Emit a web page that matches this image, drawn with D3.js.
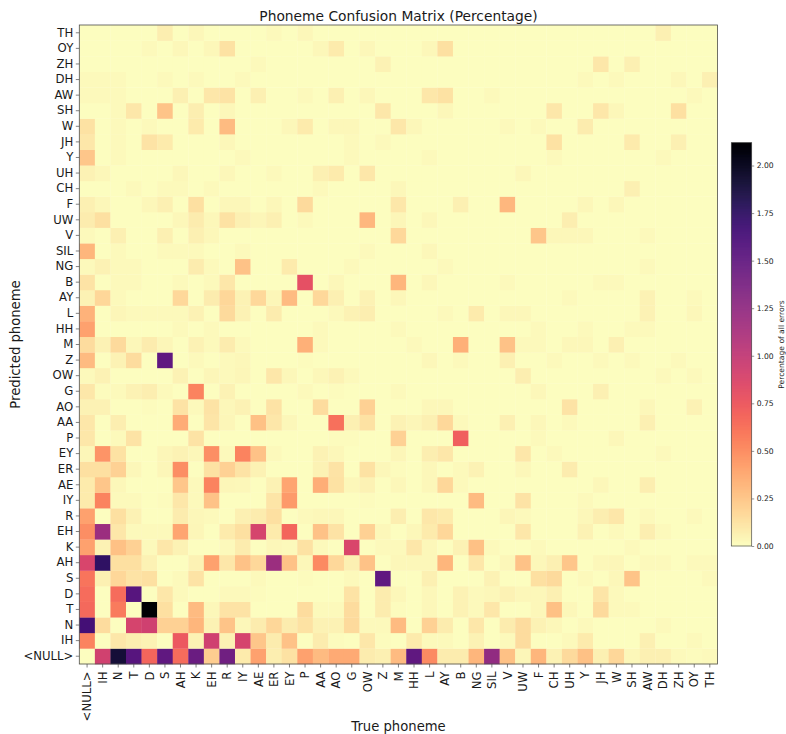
<!DOCTYPE html>
<html><head><meta charset="utf-8">
<script src="https://cdn.jsdelivr.net/npm/d3@7/dist/d3.min.js"></script>
<style>html,body{margin:0;padding:0;background:#fff}svg{display:block}text{font-family:"DejaVu Sans",sans-serif;fill:#1a1a1a}</style>
</head><body><div id="c"></div>
<script>
const truePhonemes = ["<NULL>","IH","N","T","D","S","AH","K","EH","R","IY","AE","ER","EY","P","AA","AO","G","OW","Z","M","HH","L","AY","B","NG","SIL","V","UW","F","CH","UH","Y","JH","W","SH","AW","DH","ZH","OY","TH"];
const predictedPhonemes = truePhonemes.slice();
const colorbarTicks = [0,.25,.5,.75,1,1.25,1.5,1.75,2];
const maxValue = 2.12;
// each list: [true-phoneme index, percentage]; unlisted cells are 0
const rowTH=[[5,.07],[7,.03],[12,.02],[14,.03],[37,.06]];
const rowOY=[[4,.02],[6,.03],[8,.03],[9,.13],[15,.03],[16,.09],[18,.03],[22,.03],[23,.14]];
const rowZH=[[11,.02],[19,.05],[33,.1],[35,.06]];
const rowDH=[[0,.02],[1,.02],[2,.02],[5,.02],[7,.02],[10,.02],[32,.02],[34,.02],[38,.03],[40,.06]];
const rowAW=[[0,.02],[1,.02],[2,.02],[6,.06],[8,.1],[9,.12],[11,.06],[14,.02],[16,.06],[18,.03],[22,.1],[23,.13],[26,.02],[39,.02]];
const rowSH=[[2,.02],[3,.1],[5,.26],[7,.07],[9,.03],[19,.1],[23,.03],[30,.1],[33,.1],[34,.03],[38,.14]];
const rowW=[[0,.13],[2,.02],[4,.02],[7,.09],[9,.3],[13,.03],[14,.09],[16,.03],[17,.03],[20,.1],[21,.03],[27,.02],[29,.02],[32,.08]];
const rowJH=[[0,.1],[2,.02],[4,.12],[5,.09],[9,.03],[17,.02],[19,.02],[30,.13],[35,.09],[38,.06]];
const rowY=[[0,.25],[2,.02],[10,.02],[17,.02],[22,.02],[30,.02],[37,.02]];
const rowUH=[[0,.05],[1,.03],[6,.03],[9,.03],[12,.02],[15,.06],[16,.09],[18,.1],[28,.03]];
const rowCH=[[3,.02],[5,.02],[6,.02],[8,.02],[15,.02],[20,.03],[35,.06]];
const rowF=[[0,.06],[1,.03],[4,.03],[5,.06],[7,.14],[9,.03],[10,.03],[12,.03],[14,.16],[20,.1],[24,.06],[27,.32],[32,.03],[34,.03]];
const rowUW=[[0,.08],[1,.14],[6,.03],[7,.08],[8,.03],[9,.13],[10,.06],[11,.04],[12,.06],[14,.02],[18,.32],[20,.04],[22,.03],[31,.07]];
const rowV=[[0,.02],[2,.06],[5,.06],[7,.06],[8,.03],[20,.17],[29,.25],[30,.03],[31,.03],[32,.03],[36,.02]];
const rowSIL=[[0,.33],[2,.02],[5,.02],[6,.02],[7,.02],[10,.02],[18,.02],[22,.03]];
const rowNG=[[0,.02],[1,.05],[2,.02],[3,.02],[7,.08],[8,.02],[10,.27],[13,.09],[17,.02],[23,.02],[36,.02]];
const rowB=[[0,.12],[2,.02],[3,.02],[6,.02],[8,.02],[9,.1],[14,.8],[16,.03],[20,.33],[22,.03],[27,.02],[33,.02],[34,.02]];
const rowAY=[[0,.05],[1,.18],[2,.02],[6,.17],[8,.08],[9,.18],[10,.05],[11,.17],[12,.04],[13,.3],[15,.17],[16,.06],[18,.05],[20,.03],[31,.02],[36,.05],[39,.02]];
const rowL=[[0,.34],[2,.04],[3,.02],[4,.02],[5,.02],[6,.02],[7,.05],[9,.16],[10,.05],[12,.08],[16,.02],[17,.05],[18,.07],[23,.02],[25,.09],[27,.03],[28,.03],[36,.05],[39,.03]];
const rowHH=[[0,.42],[6,.02],[8,.02],[15,.02],[20,.02],[29,.02],[32,.02],[35,.02],[36,.02]];
const rowM=[[0,.15],[1,.05],[2,.16],[3,.03],[4,.08],[5,.04],[7,.05],[8,.02],[9,.08],[10,.02],[14,.35],[15,.02],[21,.02],[24,.35],[27,.27],[28,.02],[29,.02],[31,.03],[32,.03],[34,.06]];
const rowZ=[[0,.3],[2,.05],[3,.15],[5,1.5],[7,.02],[9,.02],[10,.03],[14,.01],[22,.03],[24,.02],[27,.06],[30,.02],[33,.02],[35,.02],[38,.02]];
const rowOW=[[0,.02],[1,.05],[6,.05],[8,.04],[9,.02],[10,.04],[12,.1],[13,.03],[15,.03],[16,.05],[17,.02],[28,.07],[37,.02],[39,.02]];
const rowG=[[0,.1],[1,.01],[2,.02],[3,.05],[4,.07],[5,.02],[7,.55],[9,.05],[14,.02],[16,.01],[20,.02],[29,.03],[33,.06]];
const rowAO=[[0,.05],[1,.05],[4,.01],[6,.12],[7,.02],[8,.12],[9,.03],[10,.05],[12,.12],[15,.15],[18,.2],[22,.03],[23,.03],[31,.12],[36,.03],[39,.05]];
const rowAA=[[0,.1],[2,.07],[6,.37],[8,.11],[9,.04],[11,.28],[12,.1],[13,.03],[16,.63],[17,.06],[18,.13],[20,.05],[21,.04],[22,.06],[23,.17],[24,.02],[27,.06],[29,.03],[31,.02],[36,.06]];
const rowP=[[0,.1],[2,.02],[3,.12],[7,.12],[16,.01],[17,.01],[20,.2],[24,.72],[29,.02],[34,.03]];
const rowEY=[[0,.04],[1,.48],[2,.13],[5,.04],[6,.05],[7,.03],[8,.5],[9,.02],[10,.55],[11,.27],[12,.02],[15,.05],[16,.03],[20,.04],[22,.07],[23,.1],[28,.1],[30,.02],[37,.02]];
const rowER=[[0,.14],[1,.14],[2,.2],[3,.03],[5,.04],[6,.5],[8,.13],[9,.2],[10,.12],[11,.05],[15,.05],[16,.12],[18,.13],[19,.03],[20,.01],[22,.03],[24,.02],[25,.05],[28,.03],[31,.08]];
const rowAE=[[0,.09],[1,.25],[2,.03],[6,.25],[7,.02],[8,.55],[9,.04],[10,.03],[12,.05],[13,.4],[15,.36],[16,.13],[17,.03],[18,.05],[20,.03],[22,.03],[23,.18],[24,.02],[33,.03],[36,.07]];
const rowIY=[[0,.09],[1,.55],[2,.02],[3,.02],[5,.01],[6,.1],[7,.02],[8,.27],[12,.11],[13,.45],[18,.01],[25,.3],[28,.12],[32,.02]];
const rowR=[[0,.42],[2,.14],[3,.05],[6,.08],[7,.03],[8,.02],[10,.06],[11,.08],[12,.14],[14,.02],[15,.03],[16,.03],[20,.07],[22,.1],[23,.09],[27,.04],[28,.02],[32,.03],[33,.07],[34,.1],[36,.02],[39,.02]];
const rowEH=[[0,.5],[1,1.2],[2,.1],[3,.02],[4,.02],[5,.02],[6,.4],[7,.04],[9,.09],[10,.14],[11,.9],[12,.09],[13,.68],[15,.27],[16,.12],[18,.2],[19,.03],[21,.03],[22,.09],[23,.18],[28,.1],[32,.05],[34,.02],[36,.07],[37,.02]];
const rowK=[[0,.42],[1,.05],[2,.28],[3,.2],[4,.02],[5,.1],[6,.05],[9,.02],[10,.08],[12,.03],[13,.02],[14,.13],[15,.02],[17,.87],[19,.02],[20,.02],[21,.1],[22,.03],[24,.05],[25,.28],[26,.02],[29,.02],[35,.02]];
const rowAH=[[0,.88],[1,1.75],[2,.14],[3,.14],[4,.05],[7,.05],[8,.42],[9,.1],[10,.27],[11,.17],[12,1.2],[13,.27],[14,.03],[15,.52],[16,.17],[17,.06],[18,.27],[20,.03],[21,.03],[22,.03],[23,.33],[25,.1],[27,.03],[28,.27],[29,.03],[30,.06],[31,.25],[33,.03],[34,.04],[36,.02],[37,.02],[39,.02],[40,.02]];
const rowS=[[0,.62],[1,.06],[2,.18],[3,.12],[4,.14],[6,.02],[7,.12],[11,.02],[14,.01],[17,.02],[19,1.5],[22,.06],[26,.05],[29,.14],[30,.16],[32,.02],[34,.03],[35,.26],[40,.02]];
const rowD=[[0,.65],[2,.65],[3,1.55],[5,.1],[6,.02],[9,.02],[10,.02],[11,.01],[17,.12],[19,.08],[20,.03],[22,.03],[24,.05],[25,.02],[26,.03],[27,.05],[28,.03],[29,.03],[30,.06],[33,.11],[34,.02]];
const rowT=[[0,.67],[2,.58],[4,2.12],[5,.14],[7,.3],[8,.03],[9,.12],[10,.12],[14,.15],[15,.02],[16,.02],[17,.15],[19,.08],[20,.01],[22,.03],[24,.05],[25,.02],[26,.1],[29,.03],[30,.28],[31,.03],[33,.16],[34,.02],[35,.02]];
const rowN=[[0,1.65],[1,.15],[3,.9],[4,.93],[5,.2],[6,.2],[7,.33],[8,.05],[9,.26],[10,.03],[11,.08],[12,.18],[13,.08],[14,.13],[15,.05],[16,.05],[17,.16],[18,.02],[19,.02],[20,.3],[22,.2],[23,.08],[25,.1],[27,.08],[28,.15],[29,.05],[30,.03],[32,.02],[37,.02]];
const rowIH=[[0,.55],[2,.1],[3,.07],[4,.05],[6,.75],[7,.05],[8,.93],[9,.05],[10,.9],[11,.25],[12,.08],[13,.27],[15,.08],[16,.01],[18,.1],[19,.01],[21,.09],[22,.02],[23,.02],[25,.05],[27,.02],[28,.15],[31,.02],[32,.09],[36,.06],[39,.02]];
const rowNULL=[[1,.92],[2,1.9],[3,1.55],[4,.68],[5,1.5],[6,.65],[7,1.45],[8,.22],[9,1.42],[10,.09],[11,.42],[12,.07],[13,.13],[14,.42],[15,.3],[16,.38],[17,.38],[18,.08],[19,.06],[20,.3],[21,1.5],[22,.52],[23,.08],[24,.08],[25,.33],[26,1.25],[27,.28],[28,.04],[29,.33],[30,.05],[31,.16],[32,.28],[33,.06],[34,.18],[35,.03],[36,.06],[37,.06],[38,.02],[39,.01],[40,.02]];
const rows=[rowNULL,rowIH,rowN,rowT,rowD,rowS,rowAH,rowK,rowEH,rowR,rowIY,rowAE,rowER,rowEY,rowP,rowAA,rowAO,rowG,rowOW,rowZ,rowM,rowHH,rowL,rowAY,rowB,rowNG,rowSIL,rowV,rowUW,rowF,rowCH,rowUH,rowY,rowJH,rowW,rowSH,rowAW,rowDH,rowZH,rowOY,rowTH];

const W=786,H=734,L=79.3,R=717.6,T=25,B=664;
const svg=d3.select("#c").append("svg").attr("width",W).attr("height",H);
const x=d3.scaleBand().domain(truePhonemes).range([L,R]);
const y=d3.scaleBand().domain(predictedPhonemes).range([B,T]);
const color=v=>d3.interpolateMagma(1-Math.min(v,maxValue)/maxValue);

const cells=predictedPhonemes.flatMap((p,r)=>{
  const m=new Map(rows[r]);
  return truePhonemes.map((t,c)=>({p,t,v:m.get(c)||0}));
});
svg.append("g").selectAll("rect").data(cells).join("rect")
  .attr("x",d=>x(d.t)).attr("y",d=>y(d.p))
  .attr("width",x.bandwidth()+.3).attr("height",y.bandwidth()+.3)
  .attr("fill",d=>color(d.v));

const spine="#4d4d4d";
svg.append("rect").attr("x",L).attr("y",T).attr("width",R-L).attr("height",B-T)
  .attr("fill","none").attr("stroke",spine).attr("stroke-width",.8);

const gx=svg.append("g").attr("transform",`translate(0,${B})`)
  .call(d3.axisBottom(x).tickSize(3.5).tickPadding(2));
gx.selectAll("text").attr("transform","rotate(-90)").attr("text-anchor","end")
  .attr("dx","-7.5").attr("dy",".36em").attr("x",0).attr("y",0).attr("font-size",11.7);
const gy=svg.append("g").attr("transform",`translate(${L},0)`)
  .call(d3.axisLeft(y).tickSize(3.5).tickPadding(2.5));
gy.selectAll("text").attr("font-size",11.7);
[gx,gy].forEach(g=>{g.select(".domain").remove();g.selectAll("line").attr("stroke",spine).attr("stroke-width",.7);});

svg.append("text").attr("x",398.5).attr("y",20.5).attr("text-anchor","middle").attr("font-size",13.8).text("Phoneme Confusion Matrix (Percentage)");
svg.append("text").attr("x",398.5).attr("y",731).attr("text-anchor","middle").attr("font-size",13.2).text("True phoneme");
svg.append("text").attr("transform","translate(19.5,344.5) rotate(-90)").attr("text-anchor","middle").attr("font-size",13.2).text("Predicted phoneme");

// colorbar
const cbL=731.3,cbR=751.7,cbT=142.7,cbB=546;
const cy=d3.scaleLinear().domain([0,maxValue]).range([cbB,cbT]);
const steps=d3.range(0,404).map(i=>i/404*maxValue);
svg.append("g").selectAll("rect").data(steps).join("rect")
  .attr("x",cbL).attr("width",cbR-cbL)
  .attr("y",d=>cy(d)-1.2).attr("height",1.5)
  .attr("fill",d=>color(d));
svg.append("rect").attr("x",cbL).attr("y",cbT).attr("width",cbR-cbL).attr("height",cbB-cbT)
  .attr("fill","none").attr("stroke",spine).attr("stroke-width",.7);
const gc=svg.append("g").attr("transform",`translate(${cbR},0)`)
  .call(d3.axisRight(cy).tickValues(colorbarTicks).tickFormat(d3.format(".2f")).tickSize(2.5).tickPadding(2.5));
gc.select(".domain").remove();
gc.selectAll("line").attr("stroke",spine).attr("stroke-width",.6);
gc.selectAll("text").attr("font-size",7.6);
svg.append("text").attr("transform","translate(784,344.5) rotate(-90)").attr("text-anchor","middle").attr("font-size",7.6).text("Percentage of all errors");
</script></body></html>
